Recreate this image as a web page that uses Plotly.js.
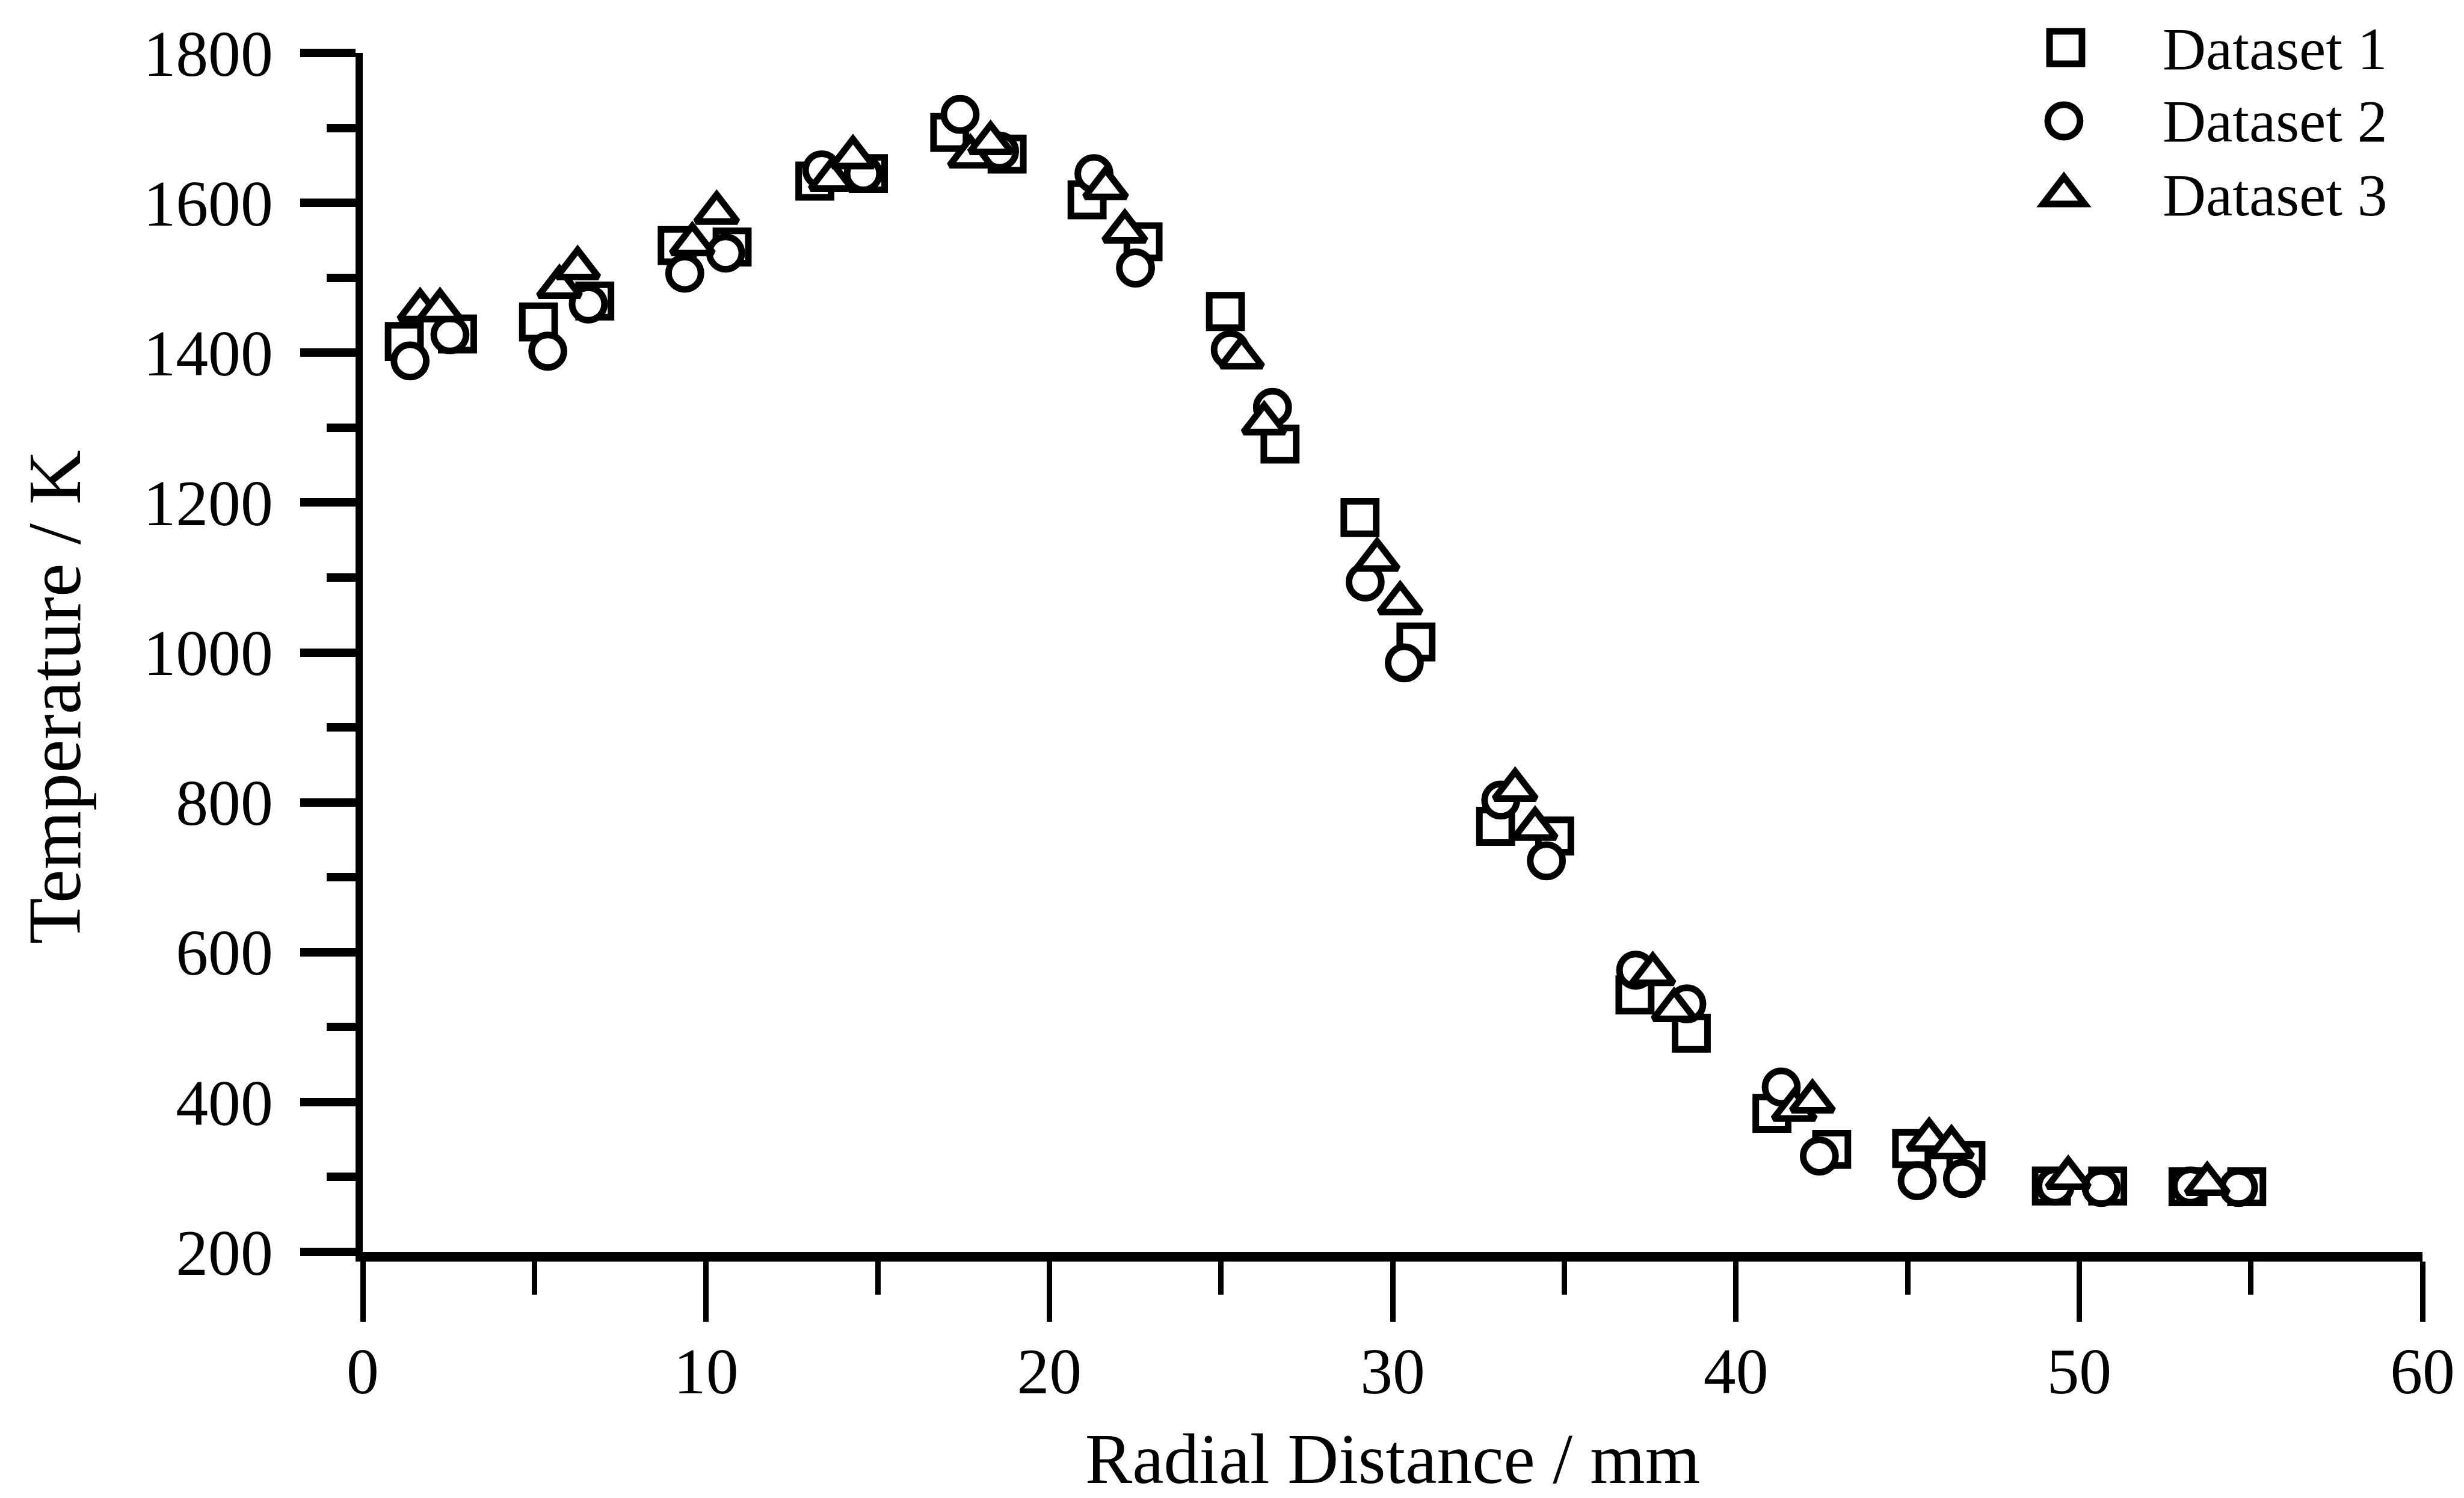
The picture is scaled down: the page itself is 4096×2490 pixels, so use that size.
<!DOCTYPE html>
<html>
<head>
<meta charset="utf-8">
<script src="https://cdn.plot.ly/plotly-3.0.1.min.js"></script>
<style>
  html, body { margin: 0; padding: 0; background: #ffffff; }
  #chart { width: 4096px; height: 2490px; }
</style>
</head>
<body>
<div id="chart"></div>
<script>
// ---- data ----
const seriesNames = ['Dataset 1', 'Dataset 2', 'Dataset 3'];

// Dataset 1 (squares)
const x1 = [1.21, 2.76, 5.12, 6.76, 9.16, 10.76, 13.17, 14.73, 17.10, 18.77, 21.10, 22.73, 25.13, 26.72,
            29.05, 30.68, 33.00, 34.72, 37.06, 38.70, 41.05, 42.79, 45.12, 46.70, 49.19, 50.83, 53.17, 54.88];
const y1 = [1415, 1425, 1441, 1469, 1543, 1541, 1629, 1639, 1694, 1665, 1604, 1548, 1455, 1278,
            1180, 1014, 768, 755, 543, 492, 385, 337, 338, 322, 288, 288, 287, 287];

// Dataset 2 (circles)
const x2 = [1.38, 2.54, 5.39, 6.57, 9.38, 10.57, 13.37, 14.58, 17.40, 18.55, 21.30, 22.51, 25.27, 26.50,
            29.20, 30.34, 33.15, 34.48, 37.08, 38.57, 41.32, 42.43, 45.28, 46.60, 49.30, 50.64, 53.24, 54.64];
const y2 = [1389, 1424, 1402, 1465, 1506, 1533, 1644, 1639, 1718, 1669, 1639, 1513, 1404, 1327,
            1094, 986, 803, 722, 576, 531, 420, 328, 295, 298, 288, 286, 288, 286];

// Dataset 3 (triangles)
const x3 = [1.67, 2.25, 5.73, 6.26, 9.60, 10.31, 13.65, 14.28, 17.70, 18.29, 21.64, 22.20, 25.60, 26.26,
            29.55, 30.22, 33.57, 34.15, 37.58, 38.20, 41.70, 42.23, 45.63, 46.28, 49.68, 53.73];
const y3 = [1457, 1457, 1488, 1513, 1545, 1587, 1631, 1661, 1662, 1680, 1620, 1562, 1394, 1306,
            1124, 1066, 817, 765, 571, 523, 390, 401, 350, 340, 299, 291];

const xTickVals = [0, 10, 20, 30, 40, 50, 60];
const yTickVals = [200, 400, 600, 800, 1000, 1200, 1400, 1600, 1800];
const xTitle = 'Radial Distance / mm';
const yTitle = 'Temperature / K';

// ---- styling ----
const S = 0.997;
const FONT = 'Liberation Serif, Times New Roman, serif';
const MLW = 11 * S;
const symbols = ['square', 'circle', 'triangle-up'];
const sizes = [54 * S, 54 * S, 60 * S];

function markerStyle(i) {
  return { symbol: symbols[i], size: sizes[i], color: '#ffffff',
           line: { color: '#000000', width: MLW } };
}

const xs = [x1, x2, x3], ys = [y1, y2, y3];
const traces = xs.map((xv, i) => ({
  x: xv, y: ys[i], name: seriesNames[i], type: 'scatter', mode: 'markers',
  marker: markerStyle(i), showlegend: false, cliponaxis: false
}));

// ---- legend (large keys like the reference) ----
const keyPX = [0.8268, 0.8259, 0.8259];           // paper x of key centres
const keyPY = [1.0045, 0.9433, 0.8816];           // paper y of key centres
const half = sizes[0] / 2;
const r = sizes[2] / 2, rt = r * 2 / Math.sqrt(3), r2 = r / 2;
const keyLine = { color: '#000000', width: MLW };
const shapes = [
  { type: 'rect', xref: 'paper', yref: 'paper', xsizemode: 'pixel', ysizemode: 'pixel',
    xanchor: keyPX[0], yanchor: keyPY[0], x0: -half, x1: half, y0: -half, y1: half,
    line: keyLine, fillcolor: '#ffffff', layer: 'above' },
  { type: 'circle', xref: 'paper', yref: 'paper', xsizemode: 'pixel', ysizemode: 'pixel',
    xanchor: keyPX[1], yanchor: keyPY[1], x0: -half, x1: half, y0: -half, y1: half,
    line: keyLine, fillcolor: '#ffffff', layer: 'above' },
  { type: 'path', xref: 'paper', yref: 'paper', xsizemode: 'pixel', ysizemode: 'pixel',
    xanchor: keyPX[2], yanchor: keyPY[2],
    path: 'M ' + (-rt) + ',' + (-r2) + ' L ' + rt + ',' + (-r2) + ' L 0,' + r + ' Z',
    line: keyLine, fillcolor: '#ffffff', layer: 'above' }
];
const labPY = [1.0035, 0.9433, 0.8811];
const annotations = seriesNames.map((n, i) => ({
  text: n, xref: 'paper', yref: 'paper', x: 0.8732, y: labPY[i], xanchor: 'left', yanchor: 'middle',
  showarrow: false, font: { family: FONT, size: 100 * S, color: '#000000' }
}));
// y-axis title (placed like the reference, slightly below the axis middle)
annotations.push({
  text: yTitle, xref: 'paper', yref: 'paper', x: -0.1496, y: 0.4629, xanchor: 'center', yanchor: 'middle',
  textangle: -90, showarrow: false, font: { family: FONT, size: 126 * S, color: '#000000' }
});

const layout = {
  width: 4096, height: 2490,
  paper_bgcolor: '#ffffff', plot_bgcolor: '#ffffff',
  margin: { l: 603, r: 69, t: 88, b: 409, pad: 0 },
  font: { family: FONT, color: '#000000' },
  showlegend: false,
  xaxis: {
    range: [0, 60], tickvals: xTickVals, ticktext: xTickVals.map(String),
    ticks: 'outside', ticklen: 100 * S, tickwidth: 9, tickcolor: '#000000',
    showline: true, linewidth: 16, linecolor: '#000000',
    showgrid: false, zeroline: false,
    minor: { dtick: 5, tick0: 0, ticks: 'outside', ticklen: 55 * S, tickwidth: 9, tickcolor: '#000000', showgrid: false },
    tickfont: { family: FONT, size: 108 * S, color: '#000000' },
    ticklabelstandoff: -10,
    title: { text: xTitle, font: { family: FONT, size: 118 * S, color: '#000000' }, standoff: 75 }
  },
  yaxis: {
    range: [200, 1800], tickvals: yTickVals, ticktext: yTickVals.map(String),
    ticks: 'outside', ticklen: 92 * S, tickwidth: 14, tickcolor: '#000000',
    showline: true, linewidth: 12, linecolor: '#000000',
    showgrid: false, zeroline: false,
    minor: { dtick: 100, tick0: 200, ticks: 'outside', ticklen: 48 * S, tickwidth: 14, tickcolor: '#000000', showgrid: false },
    tickfont: { family: FONT, size: 108 * S, color: '#000000' },
    ticklabelstandoff: 24
  },
  shapes: shapes,
  annotations: annotations
};

Plotly.newPlot('chart', traces, layout, { displayModeBar: false, staticPlot: true });
</script>
</body>
</html>
